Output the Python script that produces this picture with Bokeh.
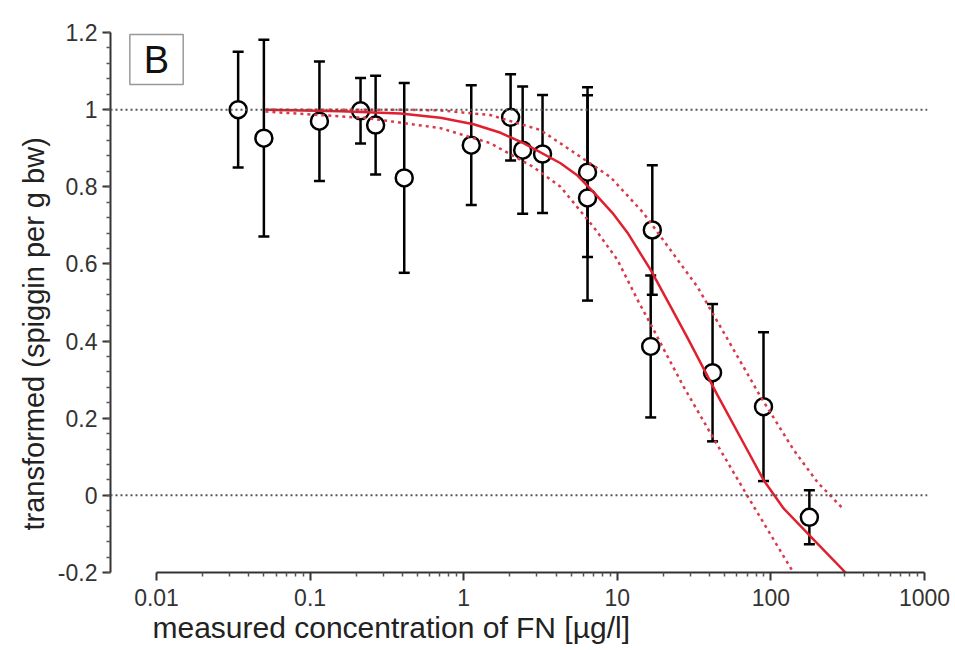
from bokeh.plotting import figure
from bokeh.models import (Range1d, FixedTicker, CustomJSTickFormatter, Span, Label,
                          Whisker, TeeHead, ColumnDataSource, Title)
from bokeh.embed import file_html
from bokeh.resources import INLINE

# ---- data ----
conc = [0.034, 0.050, 0.115, 0.213, 0.267, 0.41, 1.12, 2.02, 2.42, 3.26,
        6.4, 6.4, 16.9, 16.5, 41.7, 89.5, 178]
resp = [1.0, 0.926, 0.970, 0.997, 0.960, 0.823, 0.908, 0.980, 0.895, 0.885,
        0.838, 0.771, 0.688, 0.386, 0.318, 0.230, -0.057]
err = [0.150, 0.255, 0.155, 0.085, 0.128, 0.246, 0.155, 0.112, 0.165, 0.153,
       0.220, 0.266, 0.168, 0.184, 0.178, 0.193, 0.070]

fit_x = [0.0512, 0.158, 0.388, 0.706, 1.16, 1.74, 2.45, 4.27, 5.51, 7.00,
         9.45, 11.65, 16.45, 22.2, 28.6, 44.9, 63.4, 89.5, 121, 201, 306]
fit_y = [1.0, 0.996, 0.99, 0.979, 0.962, 0.940, 0.913, 0.861, 0.829, 0.786,
         0.729, 0.681, 0.585, 0.490, 0.409, 0.260, 0.150, 0.040, -0.034,
         -0.125, -0.2]

upper_x = [0.0512, 0.388, 0.706, 1.49, 3.16, 4.96, 9.03, 14.8, 22.2, 33.3,
           57.1, 85.6, 140, 201, 297]
upper_y = [1.0, 1.0, 0.998, 0.986, 0.947, 0.895, 0.825, 0.732, 0.636, 0.540,
           0.378, 0.256, 0.119, 0.034, -0.036]

lower_x = [0.0512, 0.236, 0.706, 1.49, 2.85, 4.27, 7.00, 10.0, 13.5, 17.2,
           20.6, 27.0, 44.9, 73.7, 140]
lower_y = [0.995, 0.978, 0.952, 0.913, 0.851, 0.80, 0.696, 0.611, 0.508, 0.43,
           0.37, 0.282, 0.13, -0.015, -0.2]

x_ticks = [0.01, 0.1, 1, 10, 100, 1000]
y_ticks = [-0.2, 0, 0.2, 0.4, 0.6, 0.8, 1.0, 1.2]
ref_levels = [0, 1]

x_label = "measured concentration of FN [µg/l]"
y_label = "transformed (spiggin per g bw)"
panel_tag = "B"

FONT = "Liberation Sans"

p = figure(frame_width=817, frame_height=540,
           x_axis_type="log",
           x_range=Range1d(0.005017, 1046), y_range=Range1d(-0.2, 1.2),
           output_backend="svg", toolbar_location=None,
           min_border_left=110, min_border_top=32, min_border_bottom=78,
           min_border_right=28)
p.outline_line_color = None
p.xgrid.visible = False
p.ygrid.visible = False
p.background_fill_color = "white"

# axes
x_minor = [m * 10 ** e for e in range(-2, 3) for m in range(2, 10)]
p.xaxis.ticker = FixedTicker(ticks=x_ticks, minor_ticks=x_minor)
p.xaxis.formatter = CustomJSTickFormatter(code="return String(Number(tick.toPrecision(6)));")
p.xaxis.bounds = (x_ticks[0], x_ticks[-1])

y_minor = [round(-0.2 + 0.04 * i, 2) for i in range(36)]
p.yaxis.ticker = FixedTicker(ticks=y_ticks, minor_ticks=y_minor)
p.yaxis.formatter = CustomJSTickFormatter(code="return String(Number(tick.toFixed(1)));")
p.yaxis.bounds = (y_ticks[0], y_ticks[-1])

for ax in (p.xaxis[0], p.yaxis[0]):
    ax.axis_line_color = "#333333"
    ax.axis_line_width = 2
    ax.major_tick_line_color = "#333333"
    ax.major_tick_line_width = 2
    ax.minor_tick_line_color = "#555555"
    ax.minor_tick_line_width = 1.5
    ax.major_tick_in = 0
    ax.major_tick_out = 8
    ax.minor_tick_in = 0
    ax.minor_tick_out = 4
    ax.major_label_text_font = FONT
    ax.major_label_text_font_size = "23px"
    ax.major_label_text_color = "#333333"
p.xaxis.major_label_standoff = 8
p.yaxis.major_label_standoff = 5

# axis titles placed like the reference
p.add_layout(Title(text=x_label, align="left", offset=42, standoff=0,
                   text_font=FONT, text_font_size="30px",
                   text_font_style="normal", text_color="#222222"), "below")
p.add_layout(Title(text=y_label, align="left", offset=42, standoff=6,
                   vertical_align="top",
                   text_font=FONT, text_font_size="29px",
                   text_font_style="normal", text_color="#222222"), "left")

# reference lines
for lv in ref_levels:
    p.add_layout(Span(location=lv, dimension="width", line_color="#555555",
                      line_width=2, line_dash="2 3"))

# error bars
src = ColumnDataSource(dict(x=conc, y=resp,
                            lo=[r - e for r, e in zip(resp, err)],
                            hi=[r + e for r, e in zip(resp, err)]))
wh = Whisker(source=src, base="x", lower="lo", upper="hi",
             line_color="black", line_width=2.5,
             upper_head=TeeHead(size=11, line_color="black", line_width=2.5),
             lower_head=TeeHead(size=11, line_color="black", line_width=2.5))
p.add_layout(wh)

p.scatter("x", "y", source=src, size=17, fill_color="white",
          line_color="black", line_width=2.5)

# fitted curve and confidence band
p.line(upper_x, upper_y, line_color="#d83a4a", line_width=2.5, line_dash="3 4")
p.line(lower_x, lower_y, line_color="#d83a4a", line_width=2.5, line_dash="3 4")
p.line(fit_x, fit_y, line_color="#e0202e", line_width=2.5)

# panel tag
p.add_layout(Label(x=0.01, y=1.13, text=panel_tag, text_align="center",
                   text_baseline="middle", text_font=FONT,
                   text_font_size="38px", text_color="#111111",
                   border_line_color="#999999", border_line_width=1.5,
                   background_fill_color="white", padding=(14, 4)))

open("out.html", "w").write(file_html(p, INLINE))
